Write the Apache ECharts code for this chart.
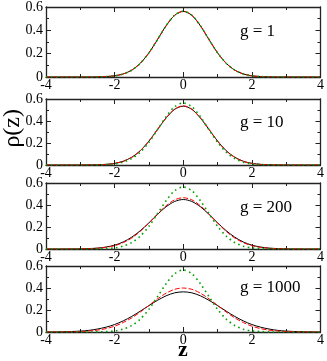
<!DOCTYPE html>
<html>
<head>
<meta charset="utf-8">
<script src="https://cdn.jsdelivr.net/npm/echarts@6/dist/echarts.min.js"></script>
<style>
  html, body { margin: 0; padding: 0; background: #fff; }
  #main { width: 327px; height: 361px; }
</style>
</head>
<body>
<div id="main"></div>
<script>
// z grid shared by all curves
const z = [-4, -3.5, -3, -2.75, -2.5, -2.25, -2, -1.75, -1.5, -1.25, -1, -0.75, -0.5, -0.25,
  0, 0.25, 0.5, 0.75, 1, 1.25, 1.5, 1.75, 2, 2.25, 2.5, 2.75, 3, 3.5, 4]

// green dotted reference (same in every panel)
const green = [0, 0, 0, 0, 0.001, 0.004, 0.010, 0.026, 0.059, 0.118, 0.207, 0.321, 0.439, 0.530,
  0.564, 0.530, 0.439, 0.321, 0.207, 0.118, 0.059, 0.026, 0.010, 0.004, 0.001, 0, 0, 0, 0]

// g = 1
const black1 = [0, 0, 0, 0, 0.001, 0.004, 0.010, 0.026, 0.059, 0.118, 0.207, 0.321, 0.439, 0.529,
  0.563, 0.529, 0.439, 0.321, 0.207, 0.118, 0.059, 0.026, 0.010, 0.004, 0.001, 0, 0, 0, 0]
const red1 = [0, 0, 0, 0, 0.001, 0.004, 0.010, 0.026, 0.059, 0.118, 0.207, 0.321, 0.439, 0.529,
  0.563, 0.529, 0.439, 0.321, 0.207, 0.118, 0.059, 0.026, 0.010, 0.004, 0.001, 0, 0, 0, 0]

// g = 10
const black10 = [0, 0, 0, 0.001, 0.002, 0.006, 0.015, 0.034, 0.071, 0.131, 0.218, 0.323, 0.427, 0.506,
  0.535, 0.506, 0.427, 0.323, 0.218, 0.131, 0.071, 0.034, 0.015, 0.006, 0.002, 0.001, 0, 0, 0]
const red10 = [0, 0, 0, 0.001, 0.002, 0.005, 0.014, 0.033, 0.070, 0.130, 0.217, 0.323, 0.428, 0.508,
  0.538, 0.508, 0.428, 0.323, 0.217, 0.130, 0.070, 0.033, 0.014, 0.005, 0.002, 0.001, 0, 0, 0]

// g = 200
const black200 = [0, 0, 0.001, 0.004, 0.008, 0.018, 0.035, 0.064, 0.108, 0.167, 0.238, 0.315, 0.384, 0.432,
  0.450, 0.432, 0.384, 0.315, 0.238, 0.167, 0.108, 0.064, 0.035, 0.018, 0.008, 0.004, 0.001, 0, 0]
const red200 = [0, 0, 0.001, 0.003, 0.007, 0.015, 0.030, 0.058, 0.100, 0.161, 0.236, 0.318, 0.393, 0.447,
  0.466, 0.447, 0.393, 0.318, 0.236, 0.161, 0.100, 0.058, 0.030, 0.015, 0.007, 0.003, 0.001, 0, 0]

// g = 1000
const black1000 = [0, 0.002, 0.008, 0.015, 0.027, 0.044, 0.068, 0.101, 0.142, 0.190, 0.240, 0.288, 0.329, 0.356,
  0.365, 0.356, 0.329, 0.288, 0.240, 0.190, 0.142, 0.101, 0.068, 0.044, 0.027, 0.015, 0.008, 0.002, 0]
const red1000 = [0, 0.001, 0.004, 0.009, 0.017, 0.031, 0.053, 0.086, 0.129, 0.182, 0.242, 0.301, 0.353, 0.388,
  0.400, 0.388, 0.353, 0.301, 0.242, 0.182, 0.129, 0.086, 0.053, 0.031, 0.017, 0.009, 0.004, 0.001, 0]

const panelLabels = ['g = 1', 'g = 10', 'g = 200', 'g = 1000']
const blacks = [black1, black10, black200, black1000]
const reds = [red1, red10, red200, red1000]

const tops = [6, 99, 183, 266]
const heights = [71, 66, 66, 66]
const labelY = [33, 124, 209, 289]

const font = "'Liberation Serif', 'Times New Roman', serif"
const frame = { show: true, onZero: false, lineStyle: { color: '#222', width: 1.3 } }
const tick = { inside: true, length: 5, lineStyle: { color: '#222' } }
const minor = { show: true, splitNumber: 2, length: 3, lineStyle: { color: '#222' } }

let grids = [], xAxes = [], yAxes = [], series = [], texts = []

const pair = (xs, ys) => xs.map((v, i) => [v, ys[i]])

for (let i = 0; i < 4; i++) {
  grids.push({ left: 46, right: 5, top: tops[i], height: heights[i] })
  // bottom x axis with labels
  xAxes.push({
    type: 'value', gridIndex: i, min: -4, max: 4, interval: 2, position: 'bottom',
    axisLine: frame, splitLine: { show: false }, axisTick: tick, minorTick: minor,
    axisLabel: { color: '#000', fontFamily: font, fontSize: 14, margin: 1 }
  })
  // top mirror axis
  xAxes.push({
    type: 'value', gridIndex: i, min: -4, max: 4, interval: 2, position: 'top',
    axisLine: frame, splitLine: { show: false }, axisTick: tick, minorTick: minor,
    axisLabel: { show: false }
  })
  yAxes.push({
    type: 'value', gridIndex: i, min: 0, max: 0.6, interval: 0.2, position: 'left',
    axisLine: frame, splitLine: { show: false }, axisTick: tick, minorTick: minor,
    axisLabel: { color: '#000', fontFamily: font, fontSize: 14, margin: 3 }
  })
  yAxes.push({
    type: 'value', gridIndex: i, min: 0, max: 0.6, interval: 0.2, position: 'right',
    axisLine: frame, splitLine: { show: false }, axisTick: tick, minorTick: minor,
    axisLabel: { show: false }
  })

  series.push({
    type: 'line', xAxisIndex: 2 * i, yAxisIndex: 2 * i, data: pair(z, blacks[i]),
    showSymbol: false, smooth: 0.3, lineStyle: { color: '#000', width: 1 }, silent: true
  })
  series.push({
    type: 'line', xAxisIndex: 2 * i, yAxisIndex: 2 * i, data: pair(z, reds[i]),
    showSymbol: false, smooth: 0.3, lineStyle: { color: '#ff0000', width: 1, type: [5, 2] }, silent: true
  })
  series.push({
    type: 'line', xAxisIndex: 2 * i, yAxisIndex: 2 * i, data: pair(z, green),
    showSymbol: false, smooth: 0.3, lineStyle: { color: '#00a000', width: 1.6, type: [1.6, 3.4] }, silent: true
  })

  texts.push({
    type: 'text', left: 240, top: labelY[i] - 10,
    style: { text: panelLabels[i], font: '17px ' + font, fill: '#000' }
  })
}

texts.push({
  type: 'text', left: 1, top: 109, rotation: Math.PI / 2,
  style: { text: 'ρ(z)', font: '24px ' + font, fill: '#000' }
})
texts.push({
  type: 'text', left: 178, top: 339,
  style: { text: 'z', font: 'bold 22px ' + font, fill: '#000' }
})

let mychart = echarts.init(document.getElementById('main'))
mychart.setOption({
  animation: false,
  grid: grids,
  xAxis: xAxes,
  yAxis: yAxes,
  series: series,
  graphic: texts
})
</script>
</body>
</html>
